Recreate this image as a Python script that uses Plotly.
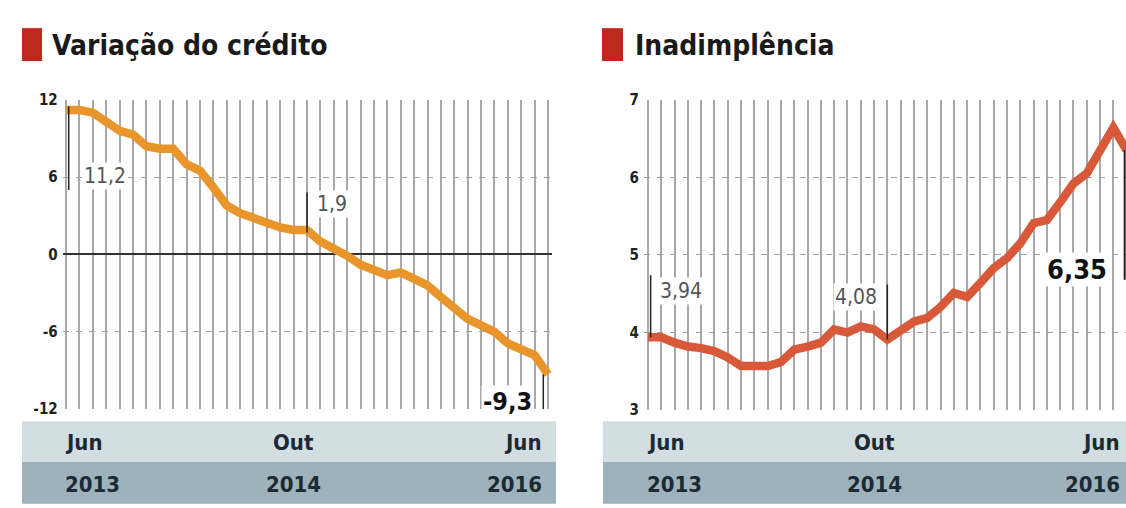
import plotly.graph_objects as go

W, H = 1126, 508

# ---- data ----
months_idx = list(range(37))  # Jun 2013 .. Jun 2016, monthly
credito = [11.2, 11.2, 11.0, 10.2, 9.6, 9.3, 8.4, 8.2, 8.2, 7.0, 6.5, 5.2, 3.8,
           3.2, 2.8, 2.4, 2.1, 1.9, 1.9, 1.0, 0.5, -0.1, -0.8, -1.2, -1.6, -1.4,
           -1.9, -2.4, -3.3, -4.2, -5.0, -5.5, -6.0, -6.9, -7.3, -7.8, -9.3]
inadimplencia = [3.94, 3.94, 3.87, 3.82, 3.80, 3.76, 3.68, 3.57, 3.57, 3.57, 3.62,
                 3.78, 3.82, 3.87, 4.04, 4.00, 4.08, 4.04, 3.91, 4.03, 4.14, 4.19,
                 4.33, 4.51, 4.46, 4.64, 4.83, 4.96, 5.15, 5.41, 5.45, 5.68, 5.92,
                 6.05, 6.35, 6.64, 6.35]
month_labels = ["Jun", "Out", "Jun"]
year_labels = ["2013", "2014", "2016"]
label_pos = [0, 17, 36]
left_ticks = [-12, -6, 0, 6, 12]
right_ticks = [3, 4, 5, 6, 7]
left_title = "Variação do crédito"
right_title = "Inadimplência"
left_callouts = [(0, "11,2"), (18, "1,9"), (36, "-9,3")]
right_callouts = [(0, "3,94"), (18, "4,08"), (36, "6,35")]

NARROW = "DejaVu Sans Condensed, Liberation Sans Narrow, Roboto, sans-serif"
ORANGE = "#E8952C"
RED_LINE = "#D8583A"
LIGHT_BAND = "#D3DEE3"
DARK_BAND = "#9DB2BA"
SQUARE = "#C0281E"
TXT = "#1c2b33"

LX_MAX = 36.3
RX_MAX = 35.95


def px(x):
    return x / W


def py(y):
    # compensate for the vertical squeeze observed in the rendered page
    yc = (y - 7.76) / 0.9695
    return (H - yc) / H


fig = go.Figure()
fig.add_trace(go.Scatter(x=months_idx, y=credito, mode="lines",
                         line=dict(color=ORANGE, width=8.5), xaxis="x", yaxis="y",
                         hoverinfo="skip"))
fig.add_trace(go.Scatter(x=months_idx, y=inadimplencia, mode="lines",
                         line=dict(color=RED_LINE, width=8.5), xaxis="x2", yaxis="y2",
                         hoverinfo="skip"))

common_x = dict(showticklabels=False, showgrid=True, gridcolor="#a9a9a9", gridwidth=1.6,
                dtick=1, tick0=0, zeroline=False, showline=False, ticks="", fixedrange=True)
common_y = dict(showgrid=True, gridcolor="#a0a0a0", gridwidth=1, griddash="6px,7px",
                showline=False, ticks="", fixedrange=True, ticklabelstandoff=4,
                tickfont=dict(family=NARROW, size=15, color="#222", weight="bold"))

fig.update_layout(
    width=W, height=H, margin=dict(l=0, r=0, t=0, b=0, pad=0),
    paper_bgcolor="white", plot_bgcolor="rgba(0,0,0,0)", showlegend=False,
    xaxis=dict(domain=[px(62.7), px(552)], range=[-0.25, LX_MAX], anchor="y", **common_x),
    yaxis=dict(domain=[py(410), py(99)], range=[-12, 12], tickvals=left_ticks,
               ticktext=[str(t) for t in left_ticks], zeroline=True,
               zerolinecolor="#333", zerolinewidth=1.5, anchor="x", **common_y),
    xaxis2=dict(domain=[px(644), 1.0], range=[-0.3, RX_MAX], anchor="y2", **common_x),
    yaxis2=dict(domain=[py(411), py(99)], range=[3, 7], tickvals=right_ticks,
                ticktext=[str(t) for t in right_ticks], zeroline=False, anchor="x2",
                **common_y),
)

shapes = []
annotations = []

# title squares and titles
for x0, x1, tx, title in [(22, 42, 50, left_title), (602, 623, 633, right_title)]:
    shapes.append(dict(type="rect", xref="paper", yref="paper", x0=px(x0), x1=px(x1),
                       y0=py(60), y1=py(27), fillcolor=SQUARE, line=dict(width=0),
                       layer="above"))
    annotations.append(dict(xref="paper", yref="paper", x=px(tx), y=py(44),
                            xanchor="left", yanchor="middle", showarrow=False,
                            text=title,
                            font=dict(family=NARROW, size=28, color="#1a1a1a", weight="bold")))

# bottom bands
for x0, x1, xa, xmax in [(22, 556, "x", 36), (603, 1126, "x2", RX_MAX)]:
    shapes.append(dict(type="rect", xref="paper", yref="paper", x0=px(x0), x1=px(x1),
                       y0=py(463), y1=py(422), fillcolor=LIGHT_BAND, line=dict(width=0),
                       layer="below"))
    shapes.append(dict(type="rect", xref="paper", yref="paper", x0=px(x0), x1=px(x1),
                       y0=py(505), y1=py(463), fillcolor=DARK_BAND, line=dict(width=0),
                       layer="below"))
    for i, (m, yr, pos) in enumerate(zip(month_labels, year_labels, label_pos)):
        anchor = ["left", "center", "right"][i]
        shift = [-3, 0, -4][i]
        xpos = min(pos, xmax)
        annotations.append(dict(xref=xa, yref="paper", x=xpos, y=py(443), xanchor=anchor,
                                yanchor="middle", xshift=shift, showarrow=False, text=m,
                                font=dict(family=NARROW, size=22, color=TXT, weight="bold")))
        annotations.append(dict(xref=xa, yref="paper", x=xpos, y=py(486), xanchor=anchor,
                                yanchor="middle", xshift=shift, showarrow=False, text=yr,
                                font=dict(family=NARROW, size=22, color=TXT, weight="bold")))

# callouts, left chart
lc = {i: t for i, t in left_callouts}
v = credito[0]
shapes.append(dict(type="line", xref="x", yref="y", x0=0.2, x1=0.2, y0=v + 0.3, y1=5.0,
                   line=dict(color="#222", width=1.5)))
annotations.append(dict(xref="x", yref="y", x=0, y=6.1, xanchor="left", yanchor="middle",
                        xshift=16, showarrow=False, text=lc[0], bgcolor="white",
                        font=dict(family=NARROW, size=21, color="#555")))
v = credito[18]
shapes.append(dict(type="line", xref="x", yref="y", x0=18, x1=18, y0=v - 0.2, y1=4.8,
                   line=dict(color="#222", width=1.5)))
annotations.append(dict(xref="x", yref="y", x=18, y=3.9, xanchor="left", yanchor="middle",
                        xshift=8, showarrow=False, text=lc[18], bgcolor="white",
                        font=dict(family=NARROW, size=21, color="#555")))
v = credito[36]
shapes.append(dict(type="line", xref="x", yref="y", x0=35.65, x1=35.65, y0=v, y1=-12,
                   line=dict(color="#222", width=1.5)))
annotations.append(dict(xref="x", yref="y", x=36, y=-11.4, xanchor="right", yanchor="middle",
                        xshift=-14, showarrow=False, text=lc[36], bgcolor="white",
                        font=dict(family=NARROW, size=25, color="#111", weight="bold")))

# callouts, right chart
rc = {i: t for i, t in right_callouts}
v = inadimplencia[0]
shapes.append(dict(type="line", xref="x2", yref="y2", x0=0.2, x1=0.2, y0=v, y1=4.74,
                   line=dict(color="#222", width=1.5)))
annotations.append(dict(xref="x2", yref="y2", x=0, y=4.53, xanchor="left", yanchor="middle",
                        xshift=10, showarrow=False, text=rc[0], bgcolor="white",
                        font=dict(family=NARROW, size=21, color="#555")))
v = inadimplencia[18]
shapes.append(dict(type="line", xref="x2", yref="y2", x0=18, x1=18, y0=v, y1=4.62,
                   line=dict(color="#222", width=1.5)))
annotations.append(dict(xref="x2", yref="y2", x=18, y=4.46, xanchor="right", yanchor="middle",
                        xshift=-8, showarrow=False, text=rc[18], bgcolor="white",
                        font=dict(family=NARROW, size=21, color="#555")))
v = inadimplencia[36]
shapes.append(dict(type="line", xref="x2", yref="y2", x0=35.85, x1=35.85, y0=v, y1=4.68,
                   line=dict(color="#222", width=2)))
annotations.append(dict(xref="x2", yref="y2", x=RX_MAX, y=4.81, xanchor="right",
                        yanchor="middle", xshift=-17, showarrow=False, text=rc[36],
                        bgcolor="white",
                        font=dict(family=NARROW, size=27, color="#111", weight="bold")))

fig.update_layout(shapes=shapes, annotations=annotations)
fig.write_html("out.html")
